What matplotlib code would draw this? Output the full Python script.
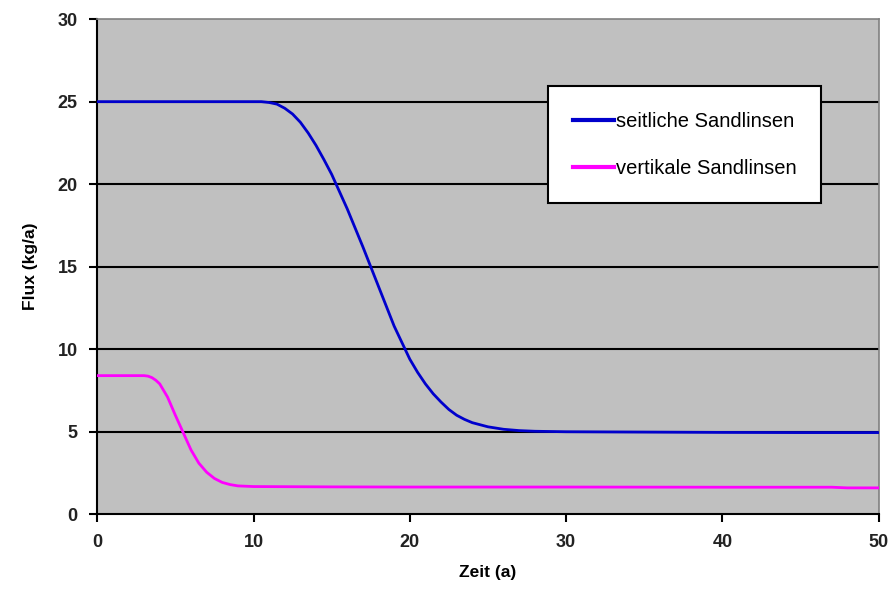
import matplotlib.pyplot as plt

plt.rcParams['font.family'] = ['Liberation Sans', 'DejaVu Sans']

# Zeit (a) und Flux (kg/a) der beiden Varianten
zeit_seitlich = [0, 2, 4, 6, 8, 10, 10.5, 11, 11.5, 12, 12.5, 13, 13.5, 14,
                 14.5, 15, 16, 17, 18, 19, 20, 20.5, 21, 21.5, 22, 22.5, 23,
                 23.5, 24, 25, 26, 27, 28, 30, 35, 40, 45, 50]
flux_seitlich = [25.0, 25.0, 25.0, 25.0, 25.0, 25.0, 25.0, 24.95, 24.85, 24.6,
                 24.25, 23.75, 23.1, 22.35, 21.5, 20.6, 18.5, 16.2, 13.8, 11.4,
                 9.4, 8.6, 7.9, 7.3, 6.8, 6.35, 6.0, 5.75, 5.55, 5.3, 5.15,
                 5.07, 5.03, 5.0, 4.98, 4.96, 4.95, 4.95]

zeit_vertikal = [0, 1, 2, 3, 3.25, 3.5, 3.75, 4, 4.5, 5, 5.5, 6, 6.5, 7, 7.5,
                 8, 8.5, 9, 10, 15, 20, 30, 40, 47, 48, 50]
flux_vertikal = [8.4, 8.4, 8.4, 8.4, 8.37, 8.28, 8.12, 7.9, 7.1, 6.0, 4.95,
                 3.9, 3.1, 2.55, 2.17, 1.93, 1.8, 1.72, 1.68, 1.66, 1.65, 1.65,
                 1.64, 1.64, 1.6, 1.6]

fig = plt.figure(figsize=(8.92, 5.98), dpi=100)
ax = fig.add_axes([0.109, 0.14, 0.876, 0.828])
ax.set_facecolor('#c0c0c0')

ax.plot(zeit_seitlich, flux_seitlich, color='#0000cc', lw=2,
        label='seitliche Sandlinsen', zorder=3)
ax.plot(zeit_vertikal, flux_vertikal, color='#ff00ff', lw=2,
        label='vertikale Sandlinsen', zorder=3)

ax.set_xlim(0, 50)
ax.set_ylim(0, 30)
ax.set_xticks(range(0, 51, 10))
ax.set_yticks(range(0, 31, 5))
for y in range(5, 30, 5):
    ax.axhline(y, color='black', lw=1.5, zorder=1)

for side in ['top', 'right']:
    ax.spines[side].set_color('#808080')
    ax.spines[side].set_linewidth(1.2)
for side in ['left', 'bottom']:
    ax.spines[side].set_color('black')
    ax.spines[side].set_linewidth(1.5)

ax.tick_params(direction='out', length=6, width=1.5, labelsize=13, pad=8)
for lab in ax.get_xticklabels() + ax.get_yticklabels():
    lab.set_fontweight('bold')
    lab.set_color('#222222')

ax.set_xlabel('Zeit (a)', fontsize=12.5, fontweight='bold', labelpad=10)
ax.set_ylabel('Flux (kg/a)', fontsize=12.5, fontweight='bold', labelpad=14)

leg = ax.legend(loc='upper left', bbox_to_anchor=(0.577, 0.864),
                fontsize=14.5, frameon=True, fancybox=False,
                handlelength=2.0, handletextpad=0.1, borderpad=1.25,
                labelspacing=1.4, borderaxespad=0)
leg.get_frame().set_edgecolor('black')
leg.get_frame().set_linewidth(1.5)
leg.get_frame().set_facecolor('white')
leg.get_frame().set_alpha(1)
leg.set_zorder(5)
for line in leg.get_lines():
    line.set_linewidth(3)

fig.savefig('out.png', dpi=100)
